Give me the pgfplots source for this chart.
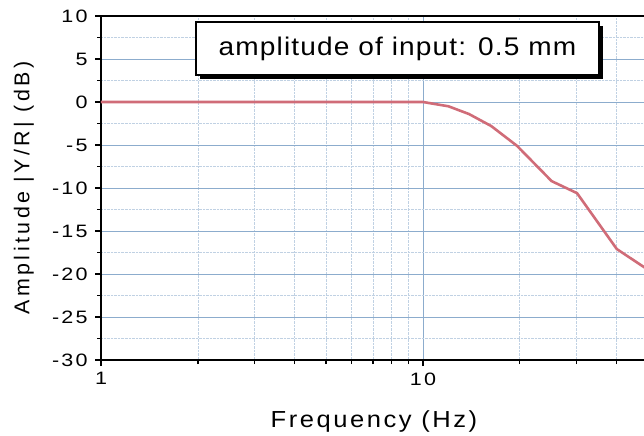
\documentclass[border=0pt]{standalone}
\usepackage{pgfplots}
\pgfplotsset{compat=1.18}
\usepackage{fontspec}
\setmainfont{Liberation Sans}
\newfontfamily\lblf[LetterSpace=16]{Liberation Sans}
\newfontfamily\xlblf[FakeStretch=1.1,LetterSpace=11]{Liberation Sans}
\newfontfamily\boxf[FakeStretch=1.1,LetterSpace=4.5]{Liberation Sans}
\newfontfamily\tickf[FakeStretch=1.2,LetterSpace=12]{Liberation Sans}
\usetikzlibrary{shadows}
\definecolor{gridblue}{RGB}{140,172,205}
\definecolor{curvecol}{RGB}{208,108,120}
\begin{document}
\begin{tikzpicture}
\path[use as bounding box] (-101bp,-76bp) rectangle (543bp,360bp);
\begin{axis}[
  scale only axis, width=547bp, height=344bp,
  xmode=log, xmin=1, xmax=50, ymin=-30, ymax=10,
  axis x line*=bottom, axis y line*=left,
  axis line style={line width=1.2bp, black},
  clip mode=individual,
  xtick={1,10}, xticklabels={1,10},
  minor xtick={2,3,4,5,6,7,8,9,20,30,40},
  ytick={-30,-25,-20,-15,-10,-5,0,5,10},
  yticklabels={-30,-25,-20,-15,-10,-5,0,5,10},
  minor ytick={-27.5,-22.5,-17.5,-12.5,-7.5,-2.5,2.5,7.5},
  tick align=outside,
  major tick length=6bp, minor tick length=4bp,
  tick style={line width=1.2bp, black},
  xmajorgrids, ymajorgrids, xminorgrids, yminorgrids,
  major grid style={gridblue, line width=0.9bp},
  minor grid style={gridblue!55, densely dotted, line width=0.8bp},
  /pgf/number format/assume math mode=true,
  xticklabel style={font=\tickf\fontsize{18}{18}\selectfont, yshift=-3bp},
  yticklabel style={font=\tickf\fontsize{18}{18}\selectfont, xshift=-4bp},
  xlabel={\xlblf Frequency (Hz)},
  xlabel style={font=\fontsize{23.3}{23.3}\selectfont, at={(axis description cs:0.499,0)}, anchor=base, yshift=-67bp},
  ylabel={\lblf Amplitude |Y/R| (dB)},
  ylabel style={font=\fontsize{21.5}{21.5}\selectfont, at={(axis description cs:-0.1408,0.5)}, anchor=center},
]
\addplot[curvecol, line width=2.6bp] coordinates {
  (1,0) (2,0) (5,0) (10,0) (12,-0.5) (13.9,-1.4) (16.3,-2.8) (19.6,-5.1)
  (25.1,-9.2) (30.1,-10.6) (40,-17.1) (48.6,-19.2) (50,-19.5)
};
\draw[line width=1.2bp] (axis description cs:0,1) -- (axis description cs:1,1);
\node[draw=black, line width=1.5bp, fill=white, minimum width=403bp, minimum height=53bp,
  inner sep=0pt,
  drop shadow={shadow xshift=4bp, shadow yshift=-4bp, fill=black, opacity=1}]
  at (axis description cs:0.542,0.9055) {\boxf\fontsize{25.6}{27}\selectfont amplitude of input: 0.5 mm};
\end{axis}
\end{tikzpicture}
\end{document}
